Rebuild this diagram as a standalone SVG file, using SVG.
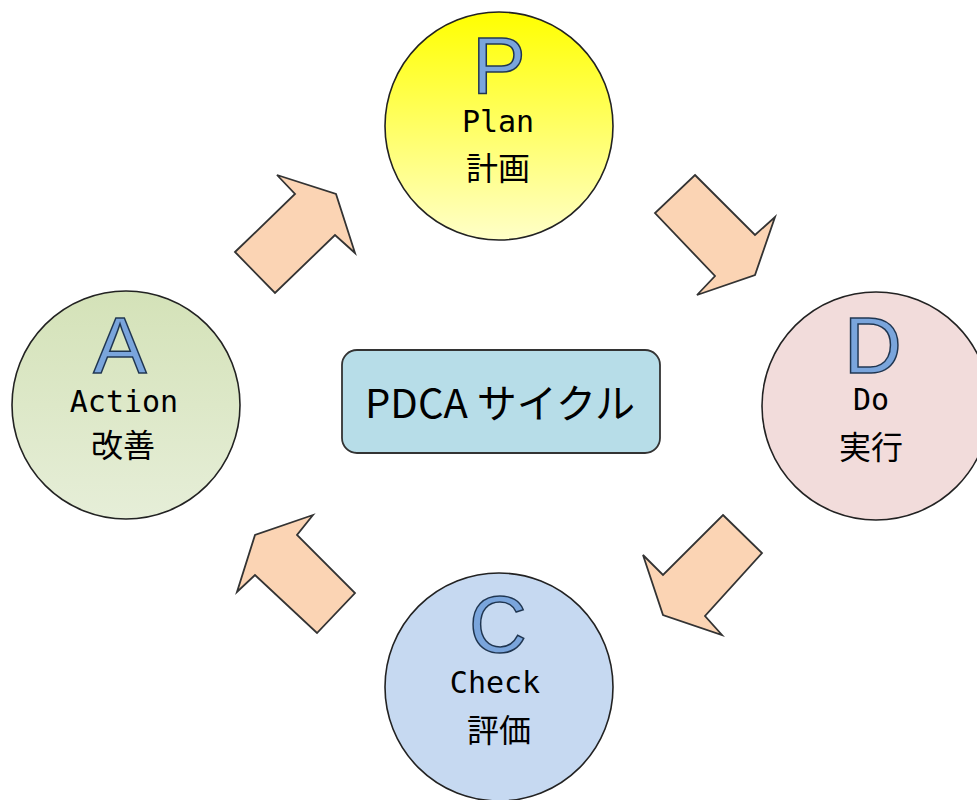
<svg xmlns="http://www.w3.org/2000/svg" width="977" height="800" viewBox="0 0 977 800">
<defs>
<linearGradient id="gP" x1="0" y1="0" x2="0" y2="1"><stop offset="0" stop-color="#FFFF00"/><stop offset="1" stop-color="#FFFFC8"/></linearGradient>
<linearGradient id="gA" x1="0" y1="0" x2="0" y2="1"><stop offset="0" stop-color="#D4E2B8"/><stop offset="1" stop-color="#E6EED8"/></linearGradient>
<style>
.circ{stroke:#222;stroke-width:1.6}
.big{font-family:"Liberation Sans",Arial,sans-serif;font-size:80px;fill:#7AA5DC;stroke:#1F3550;stroke-width:1.5;text-anchor:middle}
.lat{font-family:"DejaVu Sans Mono","Noto Sans CJK JP",monospace;font-size:30px;fill:#000;text-anchor:middle}
.kan{font-family:"Noto Sans CJK JP",sans-serif;font-size:32px;fill:#000;text-anchor:middle}
.arr{fill:#FBD4B4;stroke:#333;stroke-width:1.8;stroke-linejoin:miter}
</style>
</defs>
<rect width="977" height="800" fill="#fff"/>
<g id="connectors">
<polygon class="arr" points="235,252 295,194 277,175 336,194 355,253 335,235 275,293"/>
<polygon class="arr" points="695,175 755,235 775,217 755,275 697,295 715,276 655,213"/>
<polygon class="arr" points="723,515 762,553 705,616 722,635 663,615 643,555 663,575"/>
<polygon class="arr" points="313,515 297,535 355,593 317,633 255,575 237,592 255,535"/>
</g>
<g id="plan">
<circle class="circ" cx="499" cy="126" r="114" fill="url(#gP)"/>
<text class="big" x="499" y="93">P</text>
<text class="lat" x="498" y="132">Plan</text>
<text class="kan" x="498" y="180">計画</text>
</g>
<g id="do">
<circle class="circ" cx="876" cy="406" r="114" fill="#F2DCDB"/>
<text class="big" x="873" y="373">D</text>
<text class="lat" x="871" y="410">Do</text>
<text class="kan" x="871" y="459">実行</text>
</g>
<g id="check">
<circle class="circ" cx="499" cy="687" r="114" fill="#C6D9F1"/>
<text class="big" x="498" y="652">C</text>
<text class="lat" x="495" y="693">Check</text>
<text class="kan" x="499" y="742">評価</text>
</g>
<g id="action">
<circle class="circ" cx="126" cy="405" r="114" fill="url(#gA)"/>
<text class="big" x="120" y="373">A</text>
<text class="lat" x="124" y="412">Action</text>
<text class="kan" x="123" y="457">改善</text>
</g>
<g id="center">
<rect x="342" y="350" width="318" height="103" rx="15" fill="#B7DDE8" stroke="#333" stroke-width="1.8"/>
<text x="500" y="418" font-family="'Noto Sans CJK JP',sans-serif" font-size="40" text-anchor="middle" textLength="270" lengthAdjust="spacingAndGlyphs">PDCA サイクル</text>
</g>
</svg>
